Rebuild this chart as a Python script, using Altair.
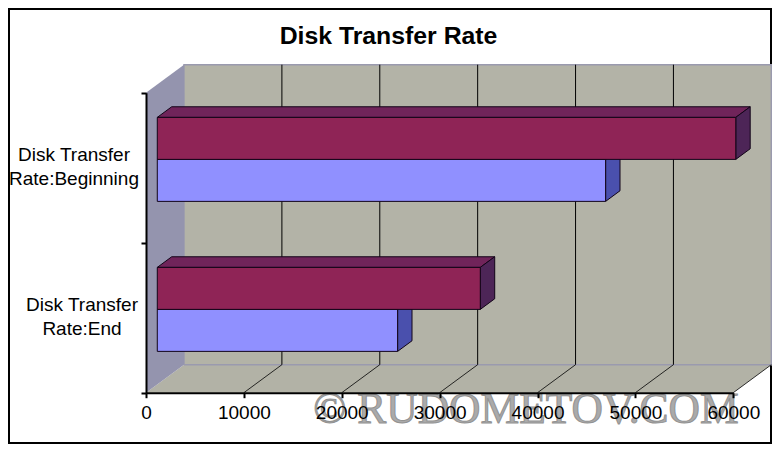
import altair as alt
import pandas as pd

CATEGORIES = ["Disk Transfer\nRate:End", "Disk Transfer\nRate:Beginning"]
MAROON_VALUES = [33000, 59100]
BLUE_VALUES = [24550, 45800]
TICKS = [0, 10000, 20000, 30000, 40000, 50000, 60000]
GRID = TICKS[1:]

# 3-D oblique projection, expressed in data units
DX = 3884.0      # full depth along the value axis
DY = 0.1867      # full depth along the category axis
BAR_D0, BAR_D1 = 0.297, 0.676
THICK = 0.28


def pt(v, c, d=0.0):
    return (v + d * DX, c + d * DY)


def poly(points, fill=None, stroke=None, sw=1.0, closed=True):
    pts = list(points) + ([points[0]] if closed else [])
    df = pd.DataFrame({"x": [p[0] for p in pts], "y": [p[1] for p in pts], "i": range(len(pts))})
    kw = {"strokeWidth": sw, "strokeJoin": "miter", "clip": False}
    if fill:
        kw["fill"] = fill
    kw["stroke"] = stroke if stroke else "transparent"
    return alt.Chart(df).mark_line(**kw).encode(x=X, y=Y, order=alt.Order("i:Q"))


X = alt.X(
    "x:Q",
    scale=alt.Scale(domain=[0, 60000], range=[137, 724.3]),
    axis=alt.Axis(
        title=None, values=TICKS, format="d", grid=False, offset=-50.3,
        domainColor="black", domainWidth=2, tickColor="black", tickWidth=2, tickSize=5,
        labelFont="Liberation Sans", labelFontSize=19, labelColor="black",
        labelPadding=6, labelFlush=False, labelOverlap=False, zindex=1,
    ),
)
Y = alt.Y(
    "y:Q",
    scale=alt.Scale(domain=[0, 2], range=[383.7, 83.7]),
    axis=alt.Axis(
        title=None, values=[0, 1, 2], labels=False, grid=False, offset=-137,
        domainColor="black", domainWidth=2, tickColor="black", tickWidth=2, tickSize=5, zindex=1,
    ),
)

layers = []
# floor, back wall, left wall
layers.append(poly([pt(0, 0), pt(60000, 0), pt(60000, 0, 1), pt(0, 0, 1)], fill="#b2b2a6"))
layers.append(poly([pt(0, 0, 1), pt(60000, 0, 1), pt(60000, 2, 1), pt(0, 2, 1)], fill="#b3b3a7", stroke="#9a9aae", sw=1.5))
layers.append(poly([pt(0, 0), pt(0, 0, 1), pt(0, 2, 1), pt(0, 2)], fill="#9494ae"))
# grid lines
for g in GRID:
    layers.append(poly([pt(g, 0), pt(g, 0, 1)], stroke="black", sw=0.8, closed=False))
    if g < 60000:
        layers.append(poly([pt(g, 0, 1), pt(g, 2, 1)], stroke="black", sw=1, closed=False))


def bar(value, c0, c1, front, top, side):
    out = []
    out.append(poly([pt(0, c1, BAR_D0), pt(0, c1, BAR_D1), pt(value, c1, BAR_D1), pt(value, c1, BAR_D0)], fill=top, stroke="#120418"))
    out.append(poly([pt(value, c0, BAR_D0), pt(value, c0, BAR_D1), pt(value, c1, BAR_D1), pt(value, c1, BAR_D0)], fill=side, stroke="#120418"))
    out.append(poly([pt(0, c0, BAR_D0), pt(value, c0, BAR_D0), pt(value, c1, BAR_D0), pt(0, c1, BAR_D0)], fill=front, stroke="#120418"))
    return out


for idx in range(len(CATEGORIES)):
    mid = idx + 0.5
    layers += bar(BLUE_VALUES[idx], mid - THICK, mid, "#9090ff", "#6c6cc0", "#4a50ad")
for idx in range(len(CATEGORIES)):
    mid = idx + 0.5
    layers += bar(MAROON_VALUES[idx], mid, mid + THICK, "#8f2456", "#70245a", "#4d2557")

# watermark
WATERMARK = "\u00a9 RUDOMETOV.COM"
wm = pd.DataFrame({"t": [WATERMARK]})
layers.append(
    alt.Chart(wm).mark_text(
        font="Liberation Serif", fontSize=43.5, align="center", baseline="alphabetic",
        color="#9c9c9c", stroke="#808080", strokeWidth=1, opacity=0.85,
    ).encode(x=alt.value(517), y=alt.value(414), text="t:N")
)

# category labels
label_x = [73, 65]
for idx, cat in enumerate(CATEGORIES):
    df = pd.DataFrame({"label": [cat], "y": [idx + 0.5]})
    layers.append(
        alt.Chart(df).mark_text(
            font="Liberation Sans", fontSize=19, lineBreak="\n", lineHeight=24,
            align="center", baseline="middle", color="black", dy=-12.5,
        ).encode(x=alt.value(label_x[idx]), y=Y, text="label:N")
    )

chart = (
    alt.layer(*layers)
    .properties(
        width=762,
        height=434,
        padding=1,
        background="white",
        autosize=alt.AutoSizeParams(type="none"),
        title=alt.TitleParams(
            "Disk Transfer Rate", font="Liberation Sans", fontSize=24.8, fontWeight="bold",
            color="black", anchor="middle", offset=-40, dx=-1.5,
        ),
    )
    .configure_view(stroke="black", strokeWidth=2)
)

chart.save("out.html", embed_options={"renderer": "svg", "actions": False})
